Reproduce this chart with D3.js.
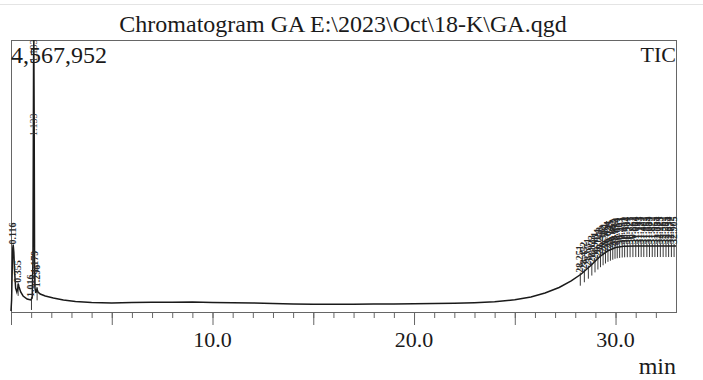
<!DOCTYPE html>
<html>
<head>
<meta charset="utf-8">
<script src="https://cdn.jsdelivr.net/npm/d3@7"></script>
<style>
  body { margin: 0; background: #fff; }
</style>
</head>
<body>
<div id="vis-holder"></div>
<script>
// retention time (min) and TIC intensity
let TIMES = [0.00,0.03,0.06,0.09,0.11,0.14,0.18,0.23,0.29,0.33,0.36,0.40,0.48,0.60,0.80,0.98,1.05,1.09,1.12,1.133,1.15,1.17,1.19,1.23,1.29,1.34,1.45,1.7,2.1,2.6,3.2,4.0,5.0,6.0,7.0,8.0,9.0,10.0,11.0,12.0,13.0,14.0,15.0,16.0,17.0,18.0,19.0,20.0,21.0,22.0,23.0,24.0,25.0,25.8,26.5,27.2,27.8,28.3,28.8,29.2,29.6,30.0,30.4,31.0,32.0,33.0]
let INTENSITY = [17000,202000,705000,1075000,1125000,1008000,672000,403000,336000,386000,470000,420000,336000,269000,218000,202000,235000,873000,4232000,4567952,3224000,789000,403000,319000,386000,336000,302000,269000,235000,202000,176000,160000,151000,158000,165000,163000,168000,160000,155000,151000,141000,134000,129000,129000,131000,134000,136000,138000,141000,146000,155000,171000,205000,252000,319000,411000,521000,638000,789000,924000,1024000,1083000,1103000,1108000,1108000,1108000]

// labelled peaks
let EARLY_PEAKS = ["0.116","0.355","1.016","1.133","1.179","1.296"]
let LATE_PEAKS = ["28.251","28.452","28.651","28.823","28.981","29.124","29.253","29.382","29.501","29.624","29.745","29.862","29.973","30.084","30.203","30.331","30.452","30.584","30.721","30.862","31.004","31.143","31.271","31.402","31.553","31.684","31.822","31.953","32.084","32.223","32.362","32.503","32.634","32.772","32.905"]

let X_TICKS = [10, 20, 30]
let MAX_LABEL = "4,567,952"
let TITLE = "Chromatogram GA E:\\2023\\Oct\\18-K\\GA.qgd"

var margin = {top: 40, right: 27, bottom: 68, left: 11},
    width = 703 - margin.left - margin.right,
    height = 380 - margin.top - margin.bottom;

var svg = d3.select("#vis-holder")
  .append("svg")
    .attr("width", 703)
    .attr("height", 380)
    .attr("font-family", "'Liberation Serif', 'DejaVu Serif', 'Times New Roman', serif")
    .attr("fill", "#1a1a1a");

// faint page rule at the very top
svg.append("line")
  .attr("x1", 0).attr("x2", 703)
  .attr("y1", 4.5).attr("y2", 4.5)
  .attr("stroke", "#e4e4e4");

svg.append("text")
  .attr("x", 343).attr("y", 32)
  .attr("text-anchor", "middle")
  .attr("font-size", 24)
  .text(TITLE);

var plot = svg.append("g")
  .attr("transform", "translate(" + margin.left + "," + margin.top + ")");

var x = d3.scaleLinear().domain([0, 33]).range([0, width]);
var y = d3.scaleLinear().domain([0, 4567952]).range([height, 0]);

// frame
plot.append("rect")
  .attr("x", 0.5).attr("y", 0.5)
  .attr("width", width).attr("height", height)
  .attr("fill", "none")
  .attr("stroke", "#666");

// minor ticks every minute, longer every 5 min
plot.append("g")
  .attr("transform", "translate(0," + height + ")")
  .call(d3.axisBottom(x).tickValues(d3.range(0, 33)).tickSize(6).tickFormat(""))
  .call(g => g.select(".domain").remove())
  .call(g => g.selectAll("line").attr("stroke", "#666"));

plot.append("g")
  .attr("transform", "translate(0," + height + ")")
  .call(d3.axisBottom(x).tickValues([0, 5, 10, 15, 20, 25, 30]).tickSize(13).tickFormat(""))
  .call(g => g.select(".domain").remove())
  .call(g => g.selectAll("line").attr("stroke", "#666"));

plot.selectAll(".xlab")
  .data(X_TICKS)
  .enter()
  .append("text")
    .attr("x", d => x(d))
    .attr("y", height + 35)
    .attr("text-anchor", "middle")
    .attr("font-size", 22)
    .text(d => d.toFixed(1));

svg.append("text")
  .attr("x", 676).attr("y", 374)
  .attr("text-anchor", "end")
  .attr("font-size", 24)
  .text("min");

svg.append("text")
  .attr("x", 11).attr("y", 63)
  .attr("font-size", 24)
  .text(MAX_LABEL);

svg.append("text")
  .attr("x", 676).attr("y", 62)
  .attr("text-anchor", "end")
  .attr("font-size", 22)
  .text("TIC");

// signal
var pts = TIMES.map((t, i) => [t, INTENSITY[i]]);
var line = d3.line().x(d => x(d[0])).y(d => y(d[1]));

plot.append("path")
  .datum(pts)
  .attr("d", line)
  .attr("fill", "none")
  .attr("stroke", "#1a1a1a")
  .attr("stroke-width", 1.5);

// height of signal at a time (linear between read points)
var bis = d3.bisector(d => d).left;
function sig(t) {
  let i = Math.max(1, Math.min(TIMES.length - 1, bis(TIMES, t)));
  let t0 = TIMES[i - 1], t1 = TIMES[i];
  let k = (t - t0) / (t1 - t0);
  return INTENSITY[i - 1] + k * (INTENSITY[i] - INTENSITY[i - 1]);
}

// peak markers and labels
function peakLabels(list, cls) {
  var g = plot.append("g").attr("class", cls);
  g.selectAll("line")
    .data(list)
    .enter()
    .append("line")
      .attr("x1", d => x(+d)).attr("x2", d => x(+d))
      .attr("y1", d => y(sig(+d)) - 2)
      .attr("y2", d => y(sig(+d)) + 11)
      .attr("stroke", "#222")
      .attr("stroke-width", 0.9);
  g.selectAll("text")
    .data(list)
    .enter()
    .append("text")
      .attr("transform", d => "translate(" + (x(+d) + 3) + "," + (y(sig(+d)) - 2) + ") rotate(-90)")
      .attr("font-size", 10)
      .attr("font-weight", "bold")
      .attr("fill", "#2a2a2a")
      .text(d => d);
}
peakLabels(EARLY_PEAKS.filter(d => d != "1.133"), "early");
peakLabels(LATE_PEAKS, "late");

// main peak label sits beside the tall line
plot.append("text")
  .attr("transform", "translate(" + (x(1.133) + 3) + ",96) rotate(-90)")
  .attr("font-size", 10)
  .attr("fill", "#333")
  .text("1.133");
plot.append("text")
  .attr("transform", "translate(" + (x(1.133) + 3) + ",22) rotate(-90)")
  .attr("font-size", 10)
  .attr("fill", "#333")
  .text("1.133");
</script>
</body>
</html>
